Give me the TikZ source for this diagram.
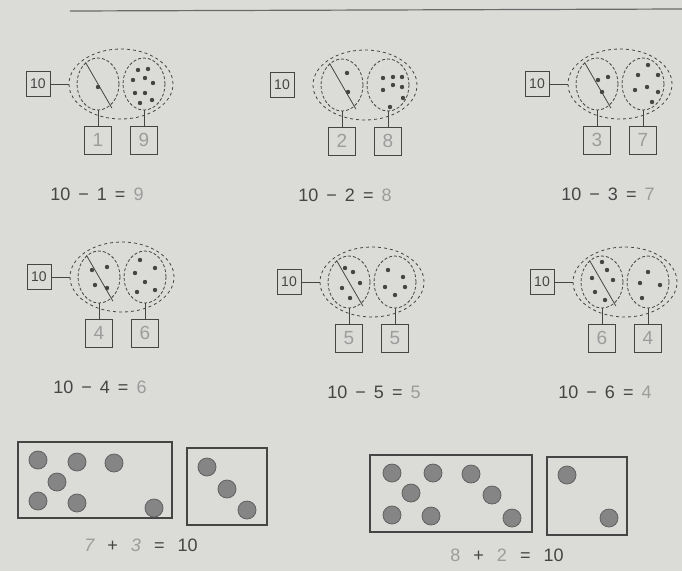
\documentclass[tikz,border=0pt]{standalone}
\usepackage{fontspec}
\setmainfont{Liberation Sans}
\usetikzlibrary{shapes.geometric}
\definecolor{wspaper}{HTML}{DBDBD8}
\definecolor{wsink}{HTML}{454545}
\definecolor{wspencil}{HTML}{9C9C9C}
\tikzset{
  setbox/.style={draw=wsink, line width=0.8pt, minimum width=24pt, minimum height=25pt, inner sep=0pt, font=\fontsize{14}{14}\selectfont, text=wsink},
  ansbox/.style={draw=wsink, line width=0.8pt, minimum width=27pt, minimum height=28pt, inner sep=0pt, font=\fontsize{19}{19}\selectfont, text=wspencil},
  whole/.style={ellipse, draw=wsink, dashed, line width=0.8pt, minimum width=104pt, minimum height=70pt, inner sep=0pt},
  part/.style={ellipse, draw=wsink, dash pattern=on 3pt off 2pt, line width=0.8pt, minimum width=42pt, minimum height=52pt, inner sep=0pt},
  lnk/.style={draw=wsink, line width=0.8pt},
  eqn/.style={font=\fontsize{18}{18}\selectfont, text=wsink, inner sep=1pt},
  tray/.style={draw=wsink, line width=2pt},
  counter/.style={fill=black!48, draw=black!62, line width=0.8pt},
  dt/.style={fill=wsink},
}
\newcommand{\gap}{\hspace{8pt}}
\newcommand{\wgap}{\hspace{13pt}}
\begin{document}
\begin{tikzpicture}[x=1pt,y=-1pt]
  \fill[wspaper] (0,0) rectangle (682,571);
  \useasboundingbox (0,0) rectangle (682,571);
  \draw[wsink!80, line width=1.2pt] (70,11) -- (682,9);
  \foreach \n/\cx/\cy/\ex/\ta/\tb/\hook in {1/121/84/97/1/9/1,2/365/85/345/2/8/0,3/620/84/608/3/7/1,4/122/277/100/4/6/1,5/372/282/374/5/5/1,6/625/282/605/6/4/1}
    { \node[whole] (o\n) at (\cx,\cy) {};
      \node[part] (l\n) at (\cx-23,\cy) {};
      \node[part] (r\n) at (\cx+23,\cy) {};
      \node[setbox] (t\n) at (\cx-83,\cy) {10};
      \node[ansbox] (a\n) at (\cx-23,\cy+56) {\ta};
      \node[ansbox] (b\n) at (\cx+23,\cy+56) {\tb};
      \draw[lnk] (a\n.north) -- (a\n.north |- l\n.south);
      \draw[lnk] (b\n.north) -- (b\n.north |- r\n.south);
      \draw[lnk, shorten >=-3pt] (l\n.120) -- (l\n.-60);
      \ifnum\hook=1 \draw[lnk] (t\n.east) -- (o\n.west); \fi
      \node[eqn] (e\n) at (\ex,\cy+110) {10\gap−\gap\ta\gap=\gap\textcolor{wspencil}{\tb}}; }
  \foreach \x/\y in {138/70,148/69,133/80,145/78,153/83,135/93,145/93,152/100,140/103,98/87,
    383/78,393/77,402/77,393/85,402/87,383/90,403/98,390/107,347/73,348/92,
    648/65,638/75,658/75,647/87,635/90,658/92,652/102,608/77,598/80,602/92,
    140/260,155/268,135/273,145/282,137/292,155/290,107/267,92/270,95/285,107/288,
    388/270,403/277,385/287,405/287,395/295,345/268,353/272,360/283,342/288,350/298,
    648/272,640/283,660/285,642/298,602/262,607/270,592/278,613/280,595/292,605/300}
    \fill[dt] (\x,\y) circle (2.2);
  \draw[tray] (18,442) rectangle (172,518);
  \draw[tray] (187,448) rectangle (267,525);
  \draw[tray] (370,455) rectangle (532,532);
  \draw[tray] (547,457) rectangle (627,535);
  \foreach \x/\y in {38/460,77/462,114/463,57/482,38/501,77/503,154/508,207/467,227/489,247/510,
    392/473,433/473,471/474,411/493,492/495,392/515,431/516,512/518,567/475,609/518}
    \filldraw[counter] (\x,\y) circle (9);
  \node[eqn] (s1) at (141,545) {\textcolor{wspencil}{\itshape 7}\wgap+\wgap\textcolor{wspencil}{\itshape 3}\wgap=\wgap10};
  \node[eqn] (s2) at (507,555) {\textcolor{wspencil}{8}\wgap+\wgap\textcolor{wspencil}{2}\wgap=\wgap10};
\end{tikzpicture}
\end{document}
